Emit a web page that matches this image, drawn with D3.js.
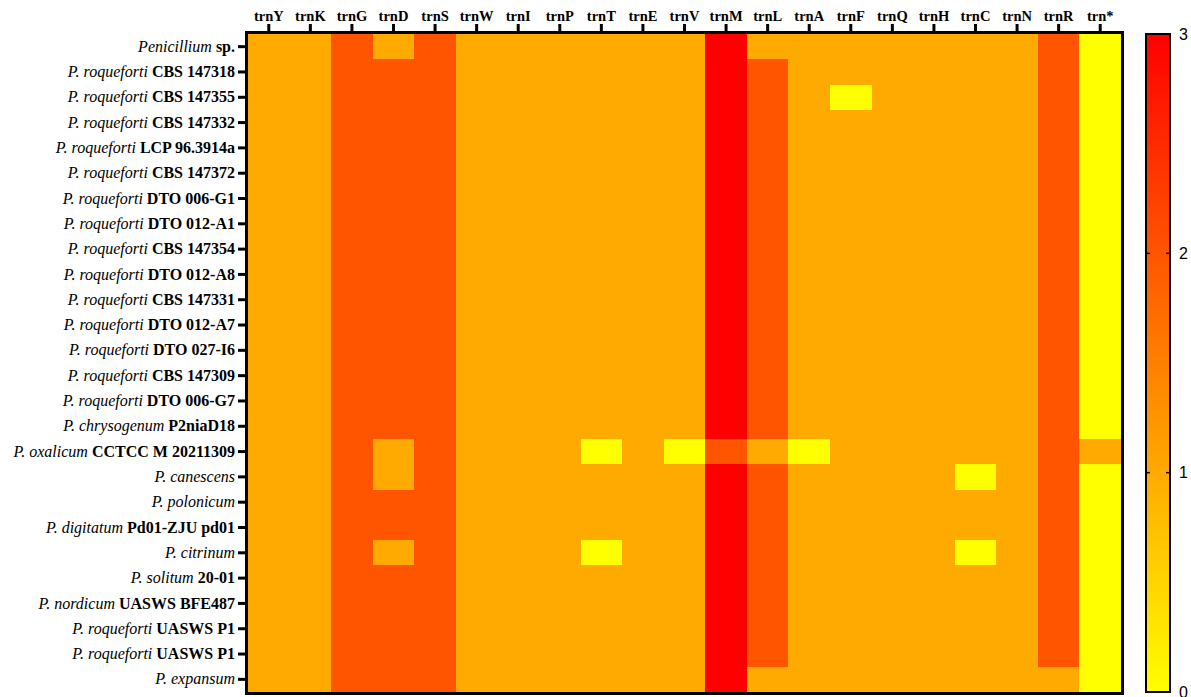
<!DOCTYPE html>
<html>
<head>
<meta charset="utf-8">
<script src="https://cdn.jsdelivr.net/npm/d3@7"></script>
<style>
  html, body { margin: 0; padding: 0; background: #fff; }
  svg { display: block; }
</style>
</head>
<body>
<svg id="chart" width="1191" height="697"></svg>
<script>
// tRNA gene columns
const genes = ["trnY","trnK","trnG","trnD","trnS","trnW","trnI","trnP","trnT","trnE","trnV",
               "trnM","trnL","trnA","trnF","trnQ","trnH","trnC","trnN","trnR","trn*"];

// Species (italic) and strain (bold) for each row, top to bottom
const species = ["Penicillium","P. roqueforti","P. roqueforti","P. roqueforti","P. roqueforti",
  "P. roqueforti","P. roqueforti","P. roqueforti","P. roqueforti","P. roqueforti","P. roqueforti",
  "P. roqueforti","P. roqueforti","P. roqueforti","P. roqueforti","P. chrysogenum","P. oxalicum",
  "P. canescens","P. polonicum","P. digitatum","P. citrinum","P. solitum","P. nordicum",
  "P. roqueforti","P. roqueforti","P. expansum"];
const strains = ["sp.","CBS 147318","CBS 147355","CBS 147332","LCP 96.3914a","CBS 147372",
  "DTO 006-G1","DTO 012-A1","CBS 147354","DTO 012-A8","CBS 147331","DTO 012-A7","DTO 027-I6",
  "CBS 147309","DTO 006-G7","P2niaD18","CCTCC M 20211309","","","Pd01-ZJU pd01","","20-01",
  "UASWS BFE487","UASWS P1","UASWS P1",""];

// Gene copy numbers, one row per genome, in the order of the gene columns
const copies = [
  [1,1,2,1,2,1,1,1,1,1,1,3,1,1,1,1,1,1,1,2,0],
  [1,1,2,2,2,1,1,1,1,1,1,3,2,1,1,1,1,1,1,2,0],
  [1,1,2,2,2,1,1,1,1,1,1,3,2,1,0,1,1,1,1,2,0],
  [1,1,2,2,2,1,1,1,1,1,1,3,2,1,1,1,1,1,1,2,0],
  [1,1,2,2,2,1,1,1,1,1,1,3,2,1,1,1,1,1,1,2,0],
  [1,1,2,2,2,1,1,1,1,1,1,3,2,1,1,1,1,1,1,2,0],
  [1,1,2,2,2,1,1,1,1,1,1,3,2,1,1,1,1,1,1,2,0],
  [1,1,2,2,2,1,1,1,1,1,1,3,2,1,1,1,1,1,1,2,0],
  [1,1,2,2,2,1,1,1,1,1,1,3,2,1,1,1,1,1,1,2,0],
  [1,1,2,2,2,1,1,1,1,1,1,3,2,1,1,1,1,1,1,2,0],
  [1,1,2,2,2,1,1,1,1,1,1,3,2,1,1,1,1,1,1,2,0],
  [1,1,2,2,2,1,1,1,1,1,1,3,2,1,1,1,1,1,1,2,0],
  [1,1,2,2,2,1,1,1,1,1,1,3,2,1,1,1,1,1,1,2,0],
  [1,1,2,2,2,1,1,1,1,1,1,3,2,1,1,1,1,1,1,2,0],
  [1,1,2,2,2,1,1,1,1,1,1,3,2,1,1,1,1,1,1,2,0],
  [1,1,2,2,2,1,1,1,1,1,1,3,2,1,1,1,1,1,1,2,0],
  [1,1,2,1,2,1,1,1,0,1,0,2,1,0,1,1,1,1,1,2,1],
  [1,1,2,1,2,1,1,1,1,1,1,3,2,1,1,1,1,0,1,2,0],
  [1,1,2,2,2,1,1,1,1,1,1,3,2,1,1,1,1,1,1,2,0],
  [1,1,2,2,2,1,1,1,1,1,1,3,2,1,1,1,1,1,1,2,0],
  [1,1,2,1,2,1,1,1,0,1,1,3,2,1,1,1,1,0,1,2,0],
  [1,1,2,2,2,1,1,1,1,1,1,3,2,1,1,1,1,1,1,2,0],
  [1,1,2,2,2,1,1,1,1,1,1,3,2,1,1,1,1,1,1,2,0],
  [1,1,2,2,2,1,1,1,1,1,1,3,2,1,1,1,1,1,1,2,0],
  [1,1,2,2,2,1,1,1,1,1,1,3,2,1,1,1,1,1,1,2,0],
  [1,1,2,2,2,1,1,1,1,1,1,3,1,1,1,1,1,1,1,1,0]
];

// Colour bar ticks
const legendTicks = [0, 1, 2, 3];

(function () {
  const svg = d3.select("#chart");
  const mLeft = 248, mRight = 1121, mTop = 34, mBottom = 692;
  const rowIds = d3.range(species.length);

  const x = d3.scaleBand().domain(genes).range([mLeft, mRight]).padding(0);
  const y = d3.scaleBand().domain(rowIds).range([mTop, mBottom]).padding(0);
  const color = d3.scaleLinear().domain([0, 3]).range(["#ffff00", "#ff0000"])
    .interpolate(d3.interpolateRgb);

  // Heat-map cells
  const cells = [];
  copies.forEach((row, r) => row.forEach((v, c) => cells.push({ r, gene: genes[c], v })));
  svg.append("g").selectAll("rect").data(cells).join("rect")
    .attr("x", d => x(d.gene))
    .attr("y", d => y(d.r))
    .attr("width", x.bandwidth() + 0.5)
    .attr("height", y.bandwidth() + 0.5)
    .attr("fill", d => color(d.v))
    .attr("shape-rendering", "crispEdges");

  // Frame around the matrix
  svg.append("rect")
    .attr("x", mLeft - 1.5).attr("y", mTop - 1.5)
    .attr("width", mRight - mLeft + 3).attr("height", mBottom - mTop + 3)
    .attr("fill", "none").attr("stroke", "#000").attr("stroke-width", 3);

  // Top axis with gene names
  const xAxis = svg.append("g").attr("transform", `translate(0,${mTop - 3})`)
    .call(d3.axisTop(x).tickSize(7).tickSizeOuter(0).tickPadding(3));
  xAxis.select(".domain").remove();
  xAxis.selectAll(".tick line").attr("stroke", "#000").attr("stroke-width", 3);
  xAxis.selectAll(".tick text")
    .attr("font-family", "'Liberation Serif', 'Times New Roman', serif")
    .attr("font-weight", "bold").attr("font-size", 14.5).attr("fill", "#000");

  // Left axis with species + strain labels
  const yAxis = svg.append("g").attr("transform", `translate(${mLeft - 3},0)`)
    .call(d3.axisLeft(y).tickSize(7).tickSizeOuter(0).tickPadding(3).tickFormat(() => ""));
  yAxis.select(".domain").remove();
  yAxis.selectAll(".tick line").attr("stroke", "#000").attr("stroke-width", 3);
  yAxis.selectAll(".tick text")
    .attr("font-family", "'Liberation Serif', 'Times New Roman', serif")
    .attr("font-size", 16).attr("fill", "#000")
    .each(function (i) {
      const t = d3.select(this);
      t.append("tspan").attr("font-style", "italic").text(species[i]);
      if (strains[i]) t.append("tspan").attr("font-weight", "bold").text(" " + strains[i]);
    });

  // Colour bar
  const cbX = 1146, cbW = 24;
  const cbScale = d3.scaleLinear().domain([0, 3]).range([mBottom, mTop]);
  const grad = svg.append("defs").append("linearGradient")
    .attr("id", "cbgrad").attr("x1", 0).attr("y1", 1).attr("x2", 0).attr("y2", 0);
  legendTicks.forEach(v => grad.append("stop")
    .attr("offset", v / 3).attr("stop-color", color(v)));
  svg.append("rect")
    .attr("x", cbX).attr("y", cbScale(3)).attr("width", cbW)
    .attr("height", cbScale(0) - cbScale(3))
    .attr("fill", "url(#cbgrad)").attr("stroke", "#000").attr("stroke-width", 2);

  const cbTicks = svg.append("g").selectAll("g").data(legendTicks).join("g")
    .attr("transform", d => `translate(0,${cbScale(d)})`);
  cbTicks.append("line").attr("x1", cbX).attr("x2", cbX + 4)
    .attr("stroke", "#000").attr("stroke-width", 1.5);
  cbTicks.append("line").attr("x1", cbX + cbW - 4).attr("x2", cbX + cbW)
    .attr("stroke", "#000").attr("stroke-width", 1.5);
  cbTicks.append("text")
    .attr("x", cbX + cbW + 9).attr("dy", "0.35em")
    .attr("font-family", "'Liberation Sans', Arial, sans-serif").attr("font-size", 16)
    .attr("fill", "#000").text(d => d);
})();
</script>
</body>
</html>
